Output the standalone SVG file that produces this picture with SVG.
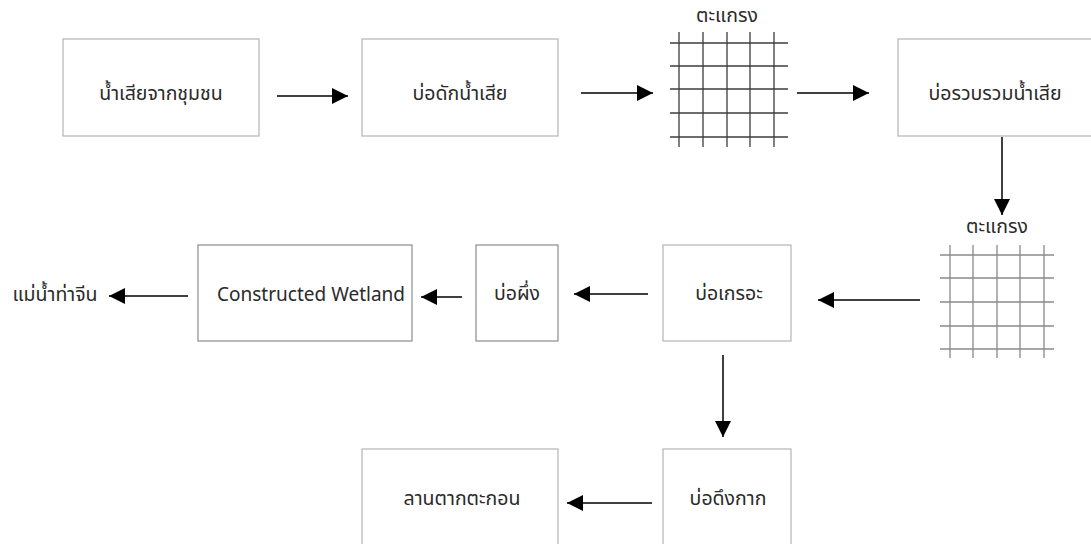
<svg xmlns="http://www.w3.org/2000/svg" width="1091" height="544" viewBox="0 0 1091 544">
  <defs>
    <marker id="arrowL" viewBox="0 0 16 16" refX="16" refY="8" markerWidth="16" markerHeight="16" markerUnits="userSpaceOnUse" orient="auto">
      <path d="M0,0 L16,8 L0,16 z" fill="#000"/>
    </marker>
  </defs>
  <style>
    .box { fill: #fff; stroke: #b4b4b4; stroke-width: 1.2; }
    .box.dark { stroke: #8c8c8c; }
    .lbl { font-family: "Noto Sans Thai", "Tahoma", "Liberation Sans", sans-serif; font-size: 19.5px; fill: #2a2a2a; text-anchor: middle; dominant-baseline: central; }
    .en { font-size: 19px; }
    .conn { stroke: #000; stroke-width: 1.5; fill: none; marker-end: url(#arrowL); }
    .grid1 line { stroke: #3c3c3c; stroke-width: 1.3; }
    .grid2 line { stroke: #8a8a8a; stroke-width: 1.3; }
  </style>
  <rect width="1091" height="544" fill="#fff"/>

  <g id="community-wastewater">
    <rect class="box" x="63" y="39" width="196" height="97"/>
    <text class="lbl" x="161" y="94">น้ำเสียจากชุมชน</text>
  </g>
  <g id="trap-pond">
    <rect class="box" x="362" y="39" width="196" height="97"/>
    <text class="lbl" x="460" y="94">บ่อดักน้ำเสีย</text>
  </g>
  <g id="screen-1">
    <text class="lbl" x="727" y="16">ตะแกรง</text>
    <g class="grid1">
      <line x1="670" y1="43" x2="788" y2="43"/>
      <line x1="670" y1="66" x2="788" y2="66"/>
      <line x1="670" y1="89" x2="788" y2="89"/>
      <line x1="670" y1="113" x2="788" y2="113"/>
      <line x1="670" y1="137" x2="788" y2="137"/>
      <line x1="679" y1="32" x2="679" y2="147"/>
      <line x1="703" y1="32" x2="703" y2="147"/>
      <line x1="727" y1="32" x2="727" y2="147"/>
      <line x1="750" y1="32" x2="750" y2="147"/>
      <line x1="774" y1="32" x2="774" y2="147"/>
    </g>
  </g>
  <g id="collection-pond">
    <rect class="box" x="898" y="39" width="196" height="97"/>
    <text class="lbl" x="995" y="94">บ่อรวบรวมน้ำเสีย</text>
  </g>
  <g id="screen-2">
    <text class="lbl" x="997" y="227">ตะแกรง</text>
    <g class="grid2">
      <line x1="940" y1="255" x2="1054" y2="255"/>
      <line x1="940" y1="278" x2="1054" y2="278"/>
      <line x1="940" y1="302" x2="1054" y2="302"/>
      <line x1="940" y1="326" x2="1054" y2="326"/>
      <line x1="940" y1="349" x2="1054" y2="349"/>
      <line x1="950" y1="245" x2="950" y2="358"/>
      <line x1="973" y1="245" x2="973" y2="358"/>
      <line x1="997" y1="245" x2="997" y2="358"/>
      <line x1="1020" y1="245" x2="1020" y2="358"/>
      <line x1="1044" y1="245" x2="1044" y2="358"/>
    </g>
  </g>
  <g id="septic-pond">
    <rect class="box" x="663" y="245" width="128" height="96"/>
    <text class="lbl" x="729" y="294">บ่อเกรอะ</text>
  </g>
  <g id="settling-pond">
    <rect class="box dark" x="476" y="245" width="82" height="96"/>
    <text class="lbl" x="517" y="294">บ่อผึ่ง</text>
  </g>
  <g id="constructed-wetland">
    <rect class="box dark" x="198" y="245" width="214" height="96"/>
    <text class="lbl en" x="311" y="295">Constructed Wetland</text>
  </g>
  <g id="tha-chin-river">
    <text class="lbl" x="55" y="295">แม่น้ำท่าจีน</text>
  </g>
  <g id="sludge-pond">
    <rect class="box" x="663" y="449" width="128" height="100"/>
    <text class="lbl" x="728" y="499">บ่อดึงกาก</text>
  </g>
  <g id="drying-bed">
    <rect class="box" x="362" y="449" width="196" height="100"/>
    <text class="lbl" x="462" y="499">ลานตากตะกอน</text>
  </g>

  <g id="connectors">
    <line class="conn" x1="277" y1="96" x2="348" y2="96"/>
    <line class="conn" x1="581" y1="93" x2="653" y2="93"/>
    <line class="conn" x1="797" y1="93" x2="869" y2="93"/>
    <line class="conn" x1="1002" y1="137" x2="1002" y2="215"/>
    <line class="conn" x1="920" y1="300" x2="818" y2="300"/>
    <line class="conn" x1="648" y1="294" x2="574" y2="294"/>
    <line class="conn" x1="462" y1="297" x2="421" y2="297"/>
    <line class="conn" x1="188" y1="296" x2="109" y2="296"/>
    <line class="conn" x1="723" y1="355" x2="723" y2="437"/>
    <line class="conn" x1="652" y1="503" x2="567" y2="503"/>
  </g>
</svg>
